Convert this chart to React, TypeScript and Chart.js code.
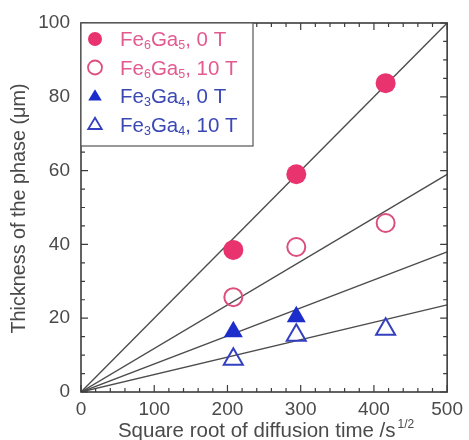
import React, { useEffect, useRef } from "react";
import { Chart, registerables } from "chart.js";

Chart.register(...registerables);

// ---- data ----
const sqrtTimes = [208, 294, 416];
const sqrtTimesFe3Ga4_0T = [208, 294];
const fe6ga5_0T = [38.5, 59, 83.7];
const fe6ga5_10T = [25.7, 39.3, 45.8];
const fe3ga4_0T = [16.3, 20.4];
const fe3ga4_10T = [8.9, 15.4, 17.0];
const fitXEnd = 500;
const fitYEnd = [100, 59, 38, 23.6];
const legendLabels = ["Fe_6Ga_5, 0 T", "Fe_6Ga_5, 10 T", "Fe_3Ga_4, 0 T", "Fe_3Ga_4, 10 T"];
const xTickValues = [0, 100, 200, 300, 400, 500];
const yTickValues = [0, 20, 40, 60, 80, 100];
const xTitle = "Square root of diffusion time /s";
const xTitleSup = "1/2";
const yTitle = "Thickness of the phase (\u03bcm)";

const PINK = "#e8336f";
const PINK_OPEN = "#dc4f7c";
const BLUE = "#1c2dcc";
const BLUE_OPEN = "#3341c0";
const PINK_TEXT = "#e25a90";
const BLUE_TEXT = "#3a48b4";
const FONT = "'Liberation Sans', Arial, sans-serif";
const TEXT = "#4a4a4a";

const legendStyles = [
  { shape: "circle", fill: true, color: PINK, text: PINK_TEXT },
  { shape: "circle", fill: false, color: PINK_OPEN, text: PINK_TEXT },
  { shape: "triangle", fill: true, color: BLUE, text: BLUE_TEXT },
  { shape: "triangle", fill: false, color: BLUE_OPEN, text: BLUE_TEXT },
];

function parseParts(s: string): { t: string; sub: boolean }[] {
  const out: { t: string; sub: boolean }[] = [];
  let i = 0;
  let buf = "";
  while (i < s.length) {
    if (s[i] === "_") {
      if (buf) out.push({ t: buf, sub: false });
      buf = "";
      out.push({ t: s[i + 1], sub: true });
      i += 2;
    } else {
      buf += s[i];
      i++;
    }
  }
  if (buf) out.push({ t: buf, sub: false });
  return out;
}

function drawSymbol(ctx: CanvasRenderingContext2D, shape: string, fill: boolean, color: string, x: number, y: number, r: number) {
  ctx.save();
  ctx.beginPath();
  if (shape === "circle") {
    ctx.arc(x, y, r, 0, Math.PI * 2);
  } else {
    const h = r * 1.5;
    ctx.moveTo(x, y - h * 0.6);
    ctx.lineTo(x + r * 0.9, y + h * 0.4);
    ctx.lineTo(x - r * 0.9, y + h * 0.4);
    ctx.closePath();
  }
  if (fill) {
    ctx.fillStyle = color;
    ctx.fill();
  } else {
    ctx.lineWidth = 1.8;
    ctx.strokeStyle = color;
    ctx.stroke();
  }
  ctx.restore();
}

const decorPlugin = {
  id: "decor",
  afterDraw(chart: any) {
    const ctx: CanvasRenderingContext2D = chart.ctx;
    const { left, right, top, bottom } = chart.chartArea;
    const xs = chart.scales.x;
    const ys = chart.scales.y;
    ctx.save();
    // frame
    ctx.strokeStyle = "#3c3c3c";
    ctx.lineWidth = 1.6;
    ctx.strokeRect(left, top, right - left, bottom - top);
    // inward ticks
    ctx.lineWidth = 1.2;
    ctx.beginPath();
    for (let v = 0; v <= 500; v += 20) {
      const p = xs.getPixelForValue(v);
      const len = v % 100 === 0 ? 7 : 4;
      ctx.moveTo(p, bottom);
      ctx.lineTo(p, bottom - len);
      ctx.moveTo(p, top);
      ctx.lineTo(p, top + len);
    }
    for (let v = 0; v <= 100; v += 5) {
      const p = ys.getPixelForValue(v);
      const len = v % 20 === 0 ? 7 : 4;
      ctx.moveTo(left, p);
      ctx.lineTo(left + len, p);
      ctx.moveTo(right, p);
      ctx.lineTo(right - len, p);
    }
    ctx.stroke();

    // legend box
    const lx = left;
    const ly = top;
    const lw = 253 - left;
    const lh = 146 - top;
    ctx.fillStyle = "#ffffff";
    ctx.fillRect(lx, ly, lw, lh);
    ctx.strokeStyle = "#555";
    ctx.lineWidth = 1.2;
    ctx.strokeRect(lx, ly, lw, lh);
    legendLabels.forEach((lab, i) => {
      const st = legendStyles[i];
      const cy = ly + 16 + i * 28.5;
      drawSymbol(ctx, st.shape, st.fill, st.color, lx + 14, cy, st.shape === "circle" ? 7 : 7.5);
      let tx = lx + 39;
      const parts = parseParts(lab);
      ctx.fillStyle = st.text;
      ctx.textBaseline = "alphabetic";
      ctx.textAlign = "left";
      for (const p of parts) {
        ctx.font = p.sub ? `12.5px ${FONT}` : `20.5px ${FONT}`;
        ctx.fillText(p.t, tx, cy + (p.sub ? 10 : 7));
        tx += ctx.measureText(p.t).width;
      }
    });

    // x title
    ctx.fillStyle = TEXT;
    ctx.font = `20.5px ${FONT}`;
    const w1 = ctx.measureText(xTitle).width;
    ctx.font = `12px ${FONT}`;
    const w2 = ctx.measureText(xTitleSup).width;
    const cx = (left + right) / 2 + 2;
    const sx = cx - (w1 + w2 + 2) / 2;
    ctx.textAlign = "left";
    ctx.textBaseline = "alphabetic";
    ctx.font = `20.5px ${FONT}`;
    ctx.fillText(xTitle, sx, 437);
    ctx.font = `12px ${FONT}`;
    ctx.fillText(xTitleSup, sx + w1 + 2, 428);

    // y title
    ctx.save();
    ctx.translate(25, (top + bottom) / 2 + 1);
    ctx.rotate(-Math.PI / 2);
    ctx.font = `19.8px ${FONT}`;
    ctx.textAlign = "center";
    ctx.textBaseline = "alphabetic";
    ctx.fillText(yTitle, 0, 0);
    ctx.restore();

    ctx.restore();
  },
};

export default function App() {
  const ref = useRef<HTMLCanvasElement | null>(null);
  useEffect(() => {
    if (!ref.current) return;
    const lineColor = "#4d4d4d";
    const fitSets = fitYEnd.map((yEnd) => ({
      type: "scatter" as const,
      data: [
        { x: 0, y: 0 },
        { x: fitXEnd, y: yEnd },
      ],
      showLine: true,
      borderColor: lineColor,
      borderWidth: 1.4,
      pointRadius: 0,
      order: 5,
    }));
    const chart = new Chart(ref.current, {
      type: "scatter",
      data: {
        datasets: [
          ...fitSets,
          {
            data: sqrtTimes.map((x, i) => ({ x, y: fe6ga5_0T[i] })),
            pointStyle: "circle",
            pointRadius: 10,
            backgroundColor: PINK,
            borderColor: PINK,
            borderWidth: 0,
            order: 1,
          },
          {
            data: sqrtTimes.map((x, i) => ({ x, y: fe6ga5_10T[i] })),
            pointStyle: "circle",
            pointRadius: 9,
            backgroundColor: "rgba(0,0,0,0)",
            borderColor: PINK_OPEN,
            borderWidth: 2,
            order: 1,
          },
          {
            data: sqrtTimesFe3Ga4_0T.map((x, i) => ({ x, y: fe3ga4_0T[i] })),
            pointStyle: "triangle",
            pointRadius: 11,
            backgroundColor: BLUE,
            borderColor: BLUE,
            borderWidth: 0,
            order: 1,
          },
          {
            data: sqrtTimes.map((x, i) => ({ x, y: fe3ga4_10T[i] })),
            pointStyle: "triangle",
            pointRadius: 11,
            backgroundColor: "rgba(0,0,0,0)",
            borderColor: BLUE_OPEN,
            borderWidth: 2,
            order: 1,
          },
        ],
      } as any,
      options: {
        animation: false,
        responsive: false,
        layout: { padding: { left: 0, top: 23, right: 17, bottom: 0 } },
        plugins: { legend: { display: false }, tooltip: { enabled: false } },
        scales: {
          x: {
            type: "linear",
            min: 0,
            max: 500,
            afterBuildTicks: (s: any) => {
              s.ticks = xTickValues.map((v) => ({ value: v }));
            },
            afterFit: (s: any) => {
              s.height = 48;
            },
            grid: { display: false, drawTicks: false },
            border: { display: false },
            ticks: { padding: 6, color: TEXT, font: { family: FONT, size: 19 }, maxRotation: 0 },
          },
          y: {
            type: "linear",
            min: 0,
            max: 100,
            afterBuildTicks: (s: any) => {
              s.ticks = yTickValues.map((v) => ({ value: v }));
            },
            afterFit: (s: any) => {
              s.width = 81;
            },
            grid: { display: false, drawTicks: false },
            border: { display: false },
            ticks: { padding: 11, color: TEXT, font: { family: FONT, size: 19 } },
          },
        },
      } as any,
      plugins: [decorPlugin],
    });
    return () => chart.destroy();
  }, []);
  return (
    <div style={{ position: "fixed", left: 0, top: 0, width: 469, height: 440, background: "#fff" }}>
      <canvas ref={ref} width={469} height={440} style={{ display: "block" }} />
    </div>
  );
}
